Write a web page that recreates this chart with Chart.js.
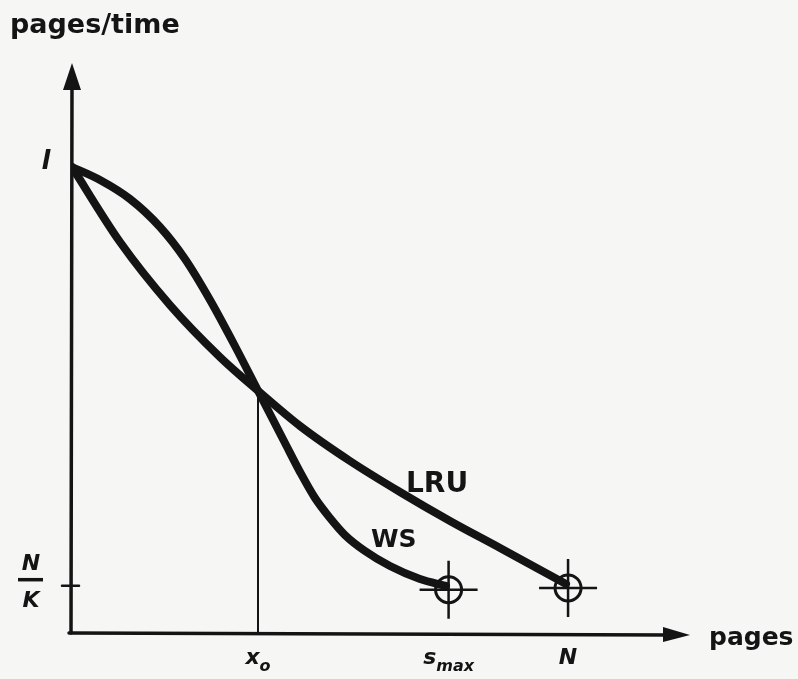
<!DOCTYPE html>
<html>
<head>
<meta charset="utf-8">
<script src="https://cdn.jsdelivr.net/npm/chart.js@4.4.1/dist/chart.umd.min.js"></script>
<style>
  html, body { margin: 0; padding: 0; background: #f6f6f5; }
  canvas { display: block; }
</style>
</head>
<body>
<canvas id="c" width="798" height="679"></canvas>
<script>
// curve data (x in pages, y in pages/time, arbitrary units 0..100)
const wsX  = [0.16, 4.68, 9.53, 14.38, 18.42, 22.46, 26.49, 30.21, 34.57, 37.00, 39.42, 41.84, 44.26, 47.50, 51.53, 56.38, 60.58];
const wsY  = [81.75, 79.47, 76.14, 71.23, 65.61, 58.42, 50.35, 42.5, 33.33, 28.25, 23.68, 20.18, 17.19, 14.39, 11.75, 9.47, 8.25];
const lruX = [0.16, 7.92, 15.99, 24.07, 30.21, 37.00, 45.07, 53.15, 61.23, 69.31, 79.97];
const lruY = [81.75, 68.60, 57.54, 48.42, 42.5, 36.32, 30.18, 24.74, 19.65, 14.91, 8.60];

// end markers (s_max and N)
const endX = [61.0, 80.3];
const endY = [7.6, 7.9];

// crossing point x0
const crossX = 30.21;
const crossY = 42.5;

// axis marks
const startY = 81.75;  // "l"
const nkY = 8.3;       // N/K
const xTickVals = [30.21, 61.0, 80.3];
const xTickMain = ['x', 's', 'N'];
const xTickSub  = ['o', 'max', ''];

const pts = (xs, ys) => xs.map((x, i) => ({ x, y: ys[i] }));
const INK = '#141414';

const sketchPlugin = {
  id: 'sketch',
  beforeDatasetsDraw(chart) {
    const { ctx } = chart;
    const sx = chart.scales.x, sy = chart.scales.y;
    const ox = sx.getPixelForValue(0), oy = sy.getPixelForValue(0);
    const topY = sy.getPixelForValue(100), rightX = sx.getPixelForValue(100);
    ctx.save();
    ctx.strokeStyle = INK; ctx.fillStyle = INK;
    ctx.lineWidth = 3.5; ctx.lineCap = 'round';
    // y axis
    ctx.beginPath(); ctx.moveTo(ox, oy); ctx.lineTo(ox + 1, topY + 20); ctx.stroke();
    ctx.beginPath();
    ctx.moveTo(ox + 1, topY); ctx.lineTo(ox - 8, topY + 27); ctx.lineTo(ox + 10, topY + 27);
    ctx.closePath(); ctx.fill();
    // x axis
    ctx.beginPath(); ctx.moveTo(ox - 2, oy); ctx.lineTo(rightX - 20, oy + 2); ctx.stroke();
    ctx.beginPath();
    ctx.moveTo(rightX, oy + 2); ctx.lineTo(rightX - 27, oy - 6); ctx.lineTo(rightX - 27, oy + 9);
    ctx.closePath(); ctx.fill();
    // N/K tick
    const ny = sy.getPixelForValue(nkY);
    ctx.lineWidth = 2.5;
    ctx.beginPath(); ctx.moveTo(ox - 9, ny); ctx.lineTo(ox + 8, ny); ctx.stroke();
    ctx.restore();
  },
  afterDatasetsDraw(chart) {
    const { ctx } = chart;
    const sx = chart.scales.x, sy = chart.scales.y;
    const ox = sx.getPixelForValue(0), oy = sy.getPixelForValue(0);
    ctx.save();
    ctx.fillStyle = INK; ctx.strokeStyle = INK;
    ctx.textBaseline = 'alphabetic';
    // axis titles
    ctx.font = 'bold 27px "DejaVu Sans"';
    ctx.textAlign = 'left';
    ctx.fillText('pages/time', 10, 33);
    ctx.font = 'bold 25px "DejaVu Sans"';
    ctx.fillText('pages', 709, oy + 12);
    // "l" at start value
    ctx.font = 'italic bold 26px "DejaVu Sans"';
    ctx.textAlign = 'center';
    ctx.fillText('l', ox - 25, sy.getPixelForValue(startY) + 2);
    // N/K fraction
    const ny = sy.getPixelForValue(nkY);
    ctx.font = 'italic bold 22px "DejaVu Sans"';
    ctx.fillText('N', 31, ny - 16);
    ctx.fillText('K', 31, ny + 21);
    ctx.lineWidth = 3.5;
    ctx.beginPath(); ctx.moveTo(18, ny - 6); ctx.lineTo(43, ny - 6); ctx.stroke();
    // x tick labels
    xTickVals.forEach((v, i) => {
      const px = sx.getPixelForValue(v);
      ctx.font = 'italic bold 22px "DejaVu Sans"';
      const mw = ctx.measureText(xTickMain[i]).width;
      ctx.font = 'italic bold 16px "DejaVu Sans"';
      const sw = xTickSub[i] ? ctx.measureText(xTickSub[i]).width : 0;
      const start = px - (mw + sw) / 2;
      ctx.textAlign = 'left';
      ctx.font = 'italic bold 22px "DejaVu Sans"';
      ctx.fillText(xTickMain[i], start, oy + 31);
      if (xTickSub[i]) {
        ctx.font = 'italic bold 16px "DejaVu Sans"';
        ctx.fillText(xTickSub[i], start + mw, oy + 38);
      }
    });
    // curve labels
    ctx.font = 'bold 28px "DejaVu Sans"';
    ctx.textAlign = 'left';
    ctx.fillText('LRU', 406, 492);
    ctx.font = 'bold 25px "DejaVu Sans"';
    ctx.fillText('WS', 371, 547);
    ctx.restore();
  }
};

new Chart(document.getElementById('c'), {
  type: 'line',
  data: {
    datasets: [
      { label: 'x0', data: [{ x: crossX, y: crossY }, { x: crossX, y: 0 }],
        borderColor: INK, borderWidth: 2, pointRadius: 0, tension: 0 },
      { label: 'WS', data: pts(wsX, wsY), borderColor: INK, borderWidth: 8,
        pointRadius: 0, cubicInterpolationMode: 'monotone', borderCapStyle: 'round' },
      { label: 'LRU', data: pts(lruX, lruY), borderColor: INK, borderWidth: 8,
        pointRadius: 0, cubicInterpolationMode: 'monotone', borderCapStyle: 'round' },
      { label: 'ring', data: pts(endX, endY), showLine: false, pointStyle: 'circle',
        pointRadius: 13, pointBorderWidth: 3, pointBorderColor: INK, pointBackgroundColor: 'rgba(0,0,0,0)' },
      { label: 'cross', data: pts(endX, endY), showLine: false, pointStyle: 'cross',
        pointRadius: 29, pointBorderWidth: 2.5, pointBorderColor: INK }
    ]
  },
  options: {
    responsive: false,
    animation: false,
    layout: { padding: { left: 71, top: 63, right: 108, bottom: 46 } },
    plugins: { legend: { display: false }, tooltip: { enabled: false } },
    scales: {
      x: { type: 'linear', min: 0, max: 100, display: false },
      y: { type: 'linear', min: 0, max: 100, display: false }
    }
  },
  plugins: [sketchPlugin]
});
</script>
</body>
</html>
